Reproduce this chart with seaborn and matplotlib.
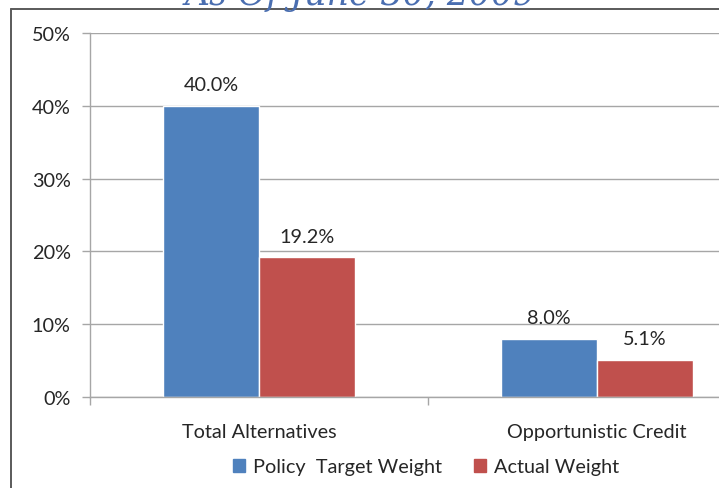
import pandas as pd
import matplotlib.pyplot as plt
import seaborn as sns
from matplotlib.patches import Rectangle
from matplotlib.lines import Line2D

# Chart data
categories = ["Total Alternatives", "Opportunistic Credit"]
series = ["Policy  Target Weight", "Actual Weight"]
target_weight = [40.0, 8.0]
actual_weight = [19.2, 5.1]
colors = ["#4f81bd", "#c0504d"]
title = "As Of June 30, 2009"

df = pd.DataFrame({
    "category": categories * 2,
    "series": [series[0]] * 2 + [series[1]] * 2,
    "value": target_weight + actual_weight,
})

sns.set_style("white")
plt.rcParams['font.family'] = ['Lato', 'DejaVu Sans']
FS = 14.3

W, H = 719, 489
fig = plt.figure(figsize=(W / 100, H / 100), dpi=100)

# outer chart frame (partially cropped in the reference)
fig.add_artist(Line2D([11 / W, 11 / W], [0, 1 - 10 / H], transform=fig.transFigure,
                      color="#5a5a5a", lw=1.4))
fig.add_artist(Line2D([11 / W, 1], [1 - 10 / H, 1 - 10 / H], transform=fig.transFigure,
                      color="#5a5a5a", lw=1.4))

# title mostly cropped off the top, as in the reference
fig.text(360 / W, 1 - 5 / H, title, ha="center", va="baseline", fontsize=25,
         color="#4a6eb0", style="italic", family=["DejaVu Serif"])

ax = fig.add_axes([90 / W, 1 - 398 / H, (766 - 90) / W, (398 - 34) / H])
sns.barplot(data=df, x="category", y="value", hue="series", palette=colors,
            width=0.568, saturation=1, ax=ax, legend=False, errorbar=None)

ax.set_ylim(0, 50)
ax.set_xlim(-0.5, 1.5)
ax.set_yticks([0, 10, 20, 30, 40, 50])
ax.set_yticklabels([f"{v}%" for v in [0, 10, 20, 30, 40, 50]], fontsize=FS, color="#262626")
ax.yaxis.grid(True, color="#a6a6a6", lw=1)
ax.set_axisbelow(True)
ax.tick_params(axis="y", left=True, length=6, width=1, color="#a6a6a6", pad=8)

# category ticks at the boundaries, labels centered
ax.set_xticks([-0.5, 0.5, 1.5])
ax.set_xticklabels([])
ax.set_xticks([0, 1], minor=True)
ax.set_xticklabels(categories, minor=True, fontsize=FS, color="#262626")
ax.tick_params(axis="x", which="major", bottom=True, length=6, width=1,
               color="#a6a6a6", direction="out")
ax.tick_params(axis="x", which="minor", bottom=False, length=0, pad=19)

for s in ["top", "right"]:
    ax.spines[s].set_visible(False)
for s in ["left", "bottom"]:
    ax.spines[s].set_color("#a6a6a6")
    ax.spines[s].set_linewidth(1)
ax.set_xlabel("")
ax.set_ylabel("")

for cont in ax.containers:
    ax.bar_label(cont, fmt="%.1f%%", padding=9, fontsize=FS, color="#262626")

handles = [Rectangle((0, 0), 1, 1, color=c) for c in colors]
fig.legend(handles, series, loc="center", bbox_to_anchor=(426 / W, 1 - 468 / H),
           ncol=2, frameon=False, fontsize=FS, handlelength=0.6, handleheight=0.6,
           handletextpad=0.4, columnspacing=1.6)

fig.savefig("out.png", dpi=100)
